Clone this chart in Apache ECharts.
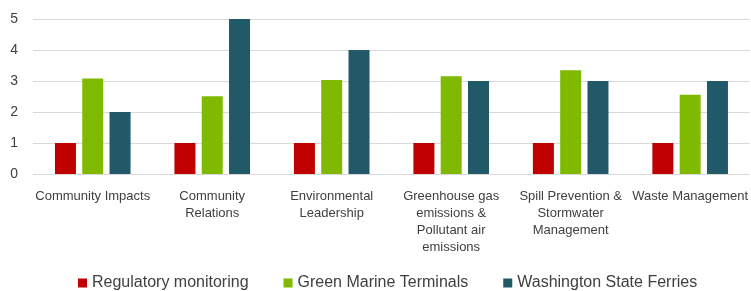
<!DOCTYPE html>
<html style="height: 100%">
<head>
    <meta charset="utf-8">
    <script type="text/javascript" src="https://cdn.jsdelivr.net/npm/echarts@6/dist/echarts.min.js"></script>
</head>
<body style="height: 100%; margin: 0; background: #fff">
<div id="container" style="width: 751px; height: 291px"></div>
<script type="text/javascript">
    var categories = [
        'Community Impacts',
        'Community\nRelations',
        'Environmental\nLeadership',
        'Greenhouse gas\nemissions &\nPollutant air\nemissions',
        'Spill Prevention &\nStormwater\nManagement',
        'Waste Management'
    ];
    var regulatory = [1, 1, 1, 1, 1, 1];
    var greenMarine = [3.08, 2.51, 3.03, 3.15, 3.35, 2.56];
    var wsf = [2, 5, 4, 3, 3, 3];

    var dom = document.getElementById("container");
    var myChart = echarts.init(dom);
    var option = {
        animation: false,
        grid: {
            left: 33,
            right: 0,
            top: 19,
            bottom: 117
        },
        legend: {
            top: 270,
            left: 73,
            itemWidth: 9,
            itemHeight: 9,
            itemGap: 35,
            icon: 'rect',
            textStyle: {
                fontFamily: 'Liberation Sans',
                fontSize: 16,
                color: '#404040'
            },
            data: ['Regulatory monitoring', 'Green Marine Terminals', 'Washington State Ferries']
        },
        xAxis: {
            type: 'category',
            data: categories,
            axisLine: {show: false},
            axisTick: {show: false},
            axisLabel: {
                interval: 0,
                margin: 14,
                fontFamily: 'Liberation Sans',
                fontSize: 13,
                lineHeight: 17,
                color: '#404040'
            }
        },
        yAxis: {
            type: 'value',
            min: 0,
            max: 5,
            interval: 1,
            axisLine: {show: false},
            axisTick: {show: false},
            axisLabel: {
                margin: 15,
                fontFamily: 'Liberation Sans',
                fontSize: 14,
                color: '#404040'
            },
            splitLine: {lineStyle: {color: '#d9d9d9', width: 1}}
        },
        series: [
            {
                name: 'Regulatory monitoring',
                type: 'bar',
                barWidth: 21,
                barGap: '30%',
                itemStyle: {color: '#c00000'},
                data: regulatory
            },
            {
                name: 'Green Marine Terminals',
                type: 'bar',
                barWidth: 21,
                barGap: '30%',
                itemStyle: {color: '#7fba00'},
                data: greenMarine
            },
            {
                name: 'Washington State Ferries',
                type: 'bar',
                barWidth: 21,
                barGap: '30%',
                itemStyle: {color: '#215968'},
                data: wsf
            }
        ]
    };
    myChart.setOption(option, true);
</script>
</body>
</html>
